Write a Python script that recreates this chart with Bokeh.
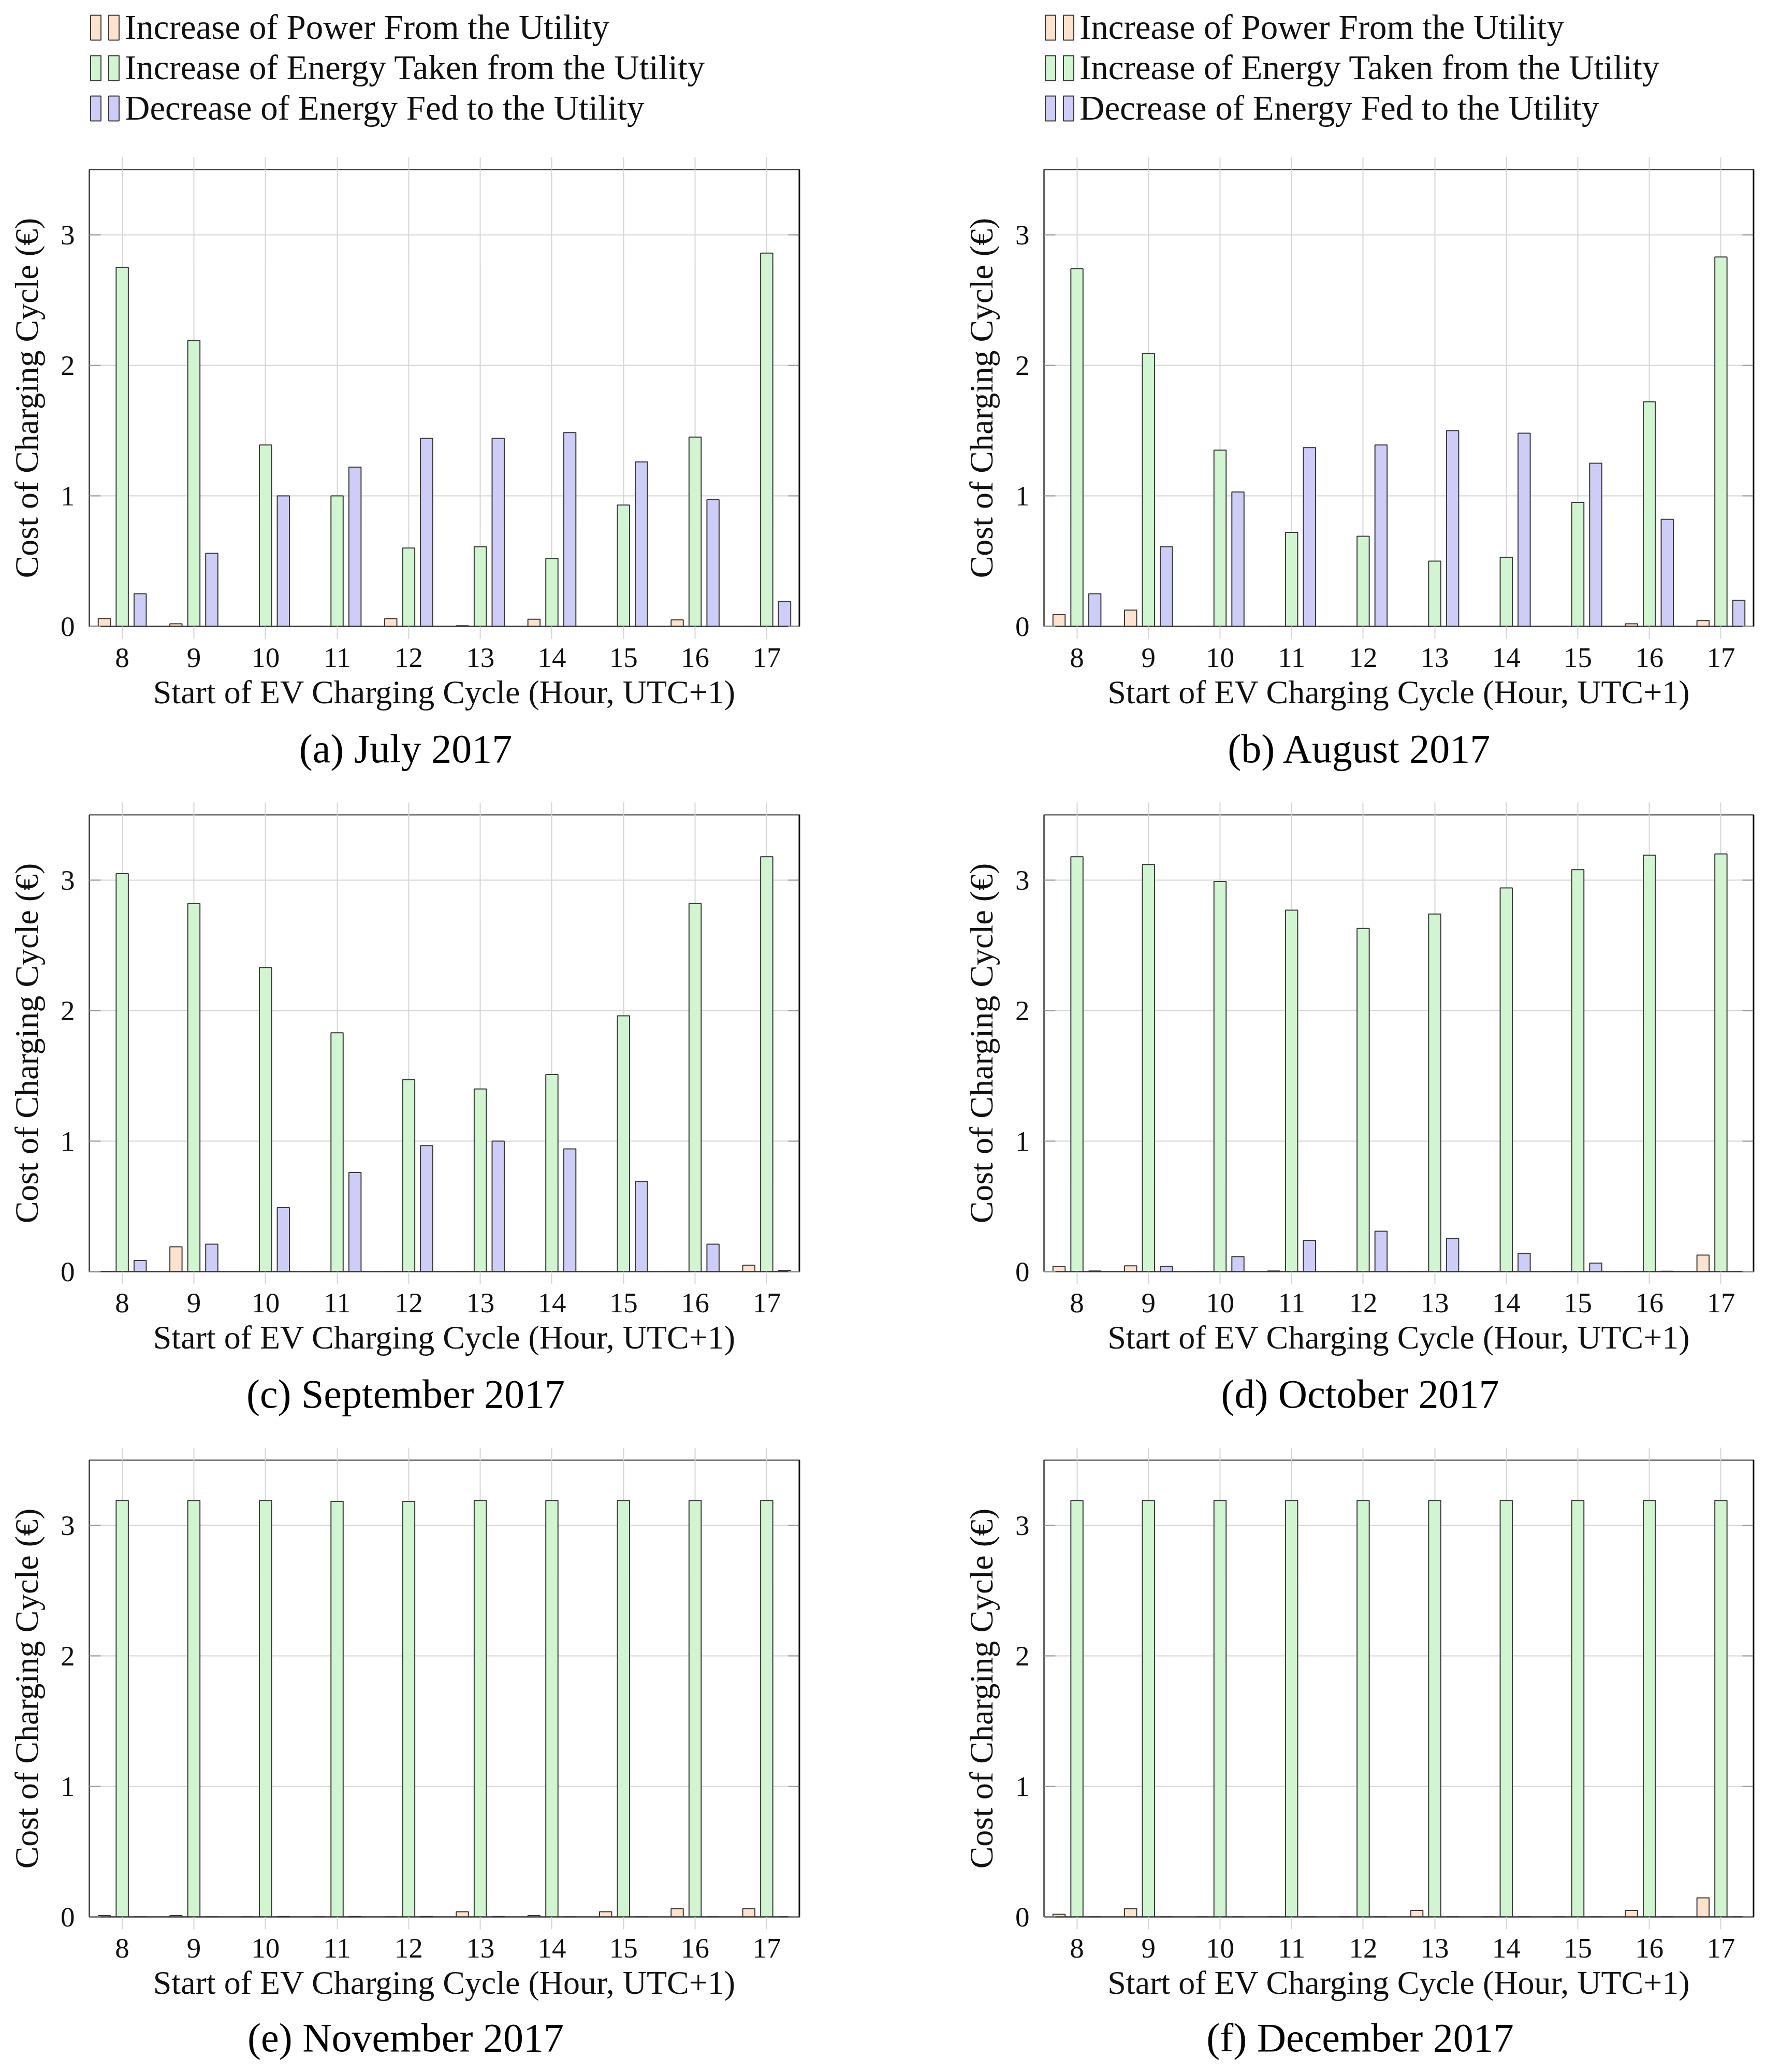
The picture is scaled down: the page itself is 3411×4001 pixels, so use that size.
from bokeh.plotting import figure
from bokeh.models import (ColumnDataSource, FixedTicker, Range1d, Legend,
                          LegendItem, Title, Span, LinearAxis)
from bokeh.transform import dodge
from bokeh.layouts import gridplot
from bokeh.core.properties import value
from bokeh.embed import file_html
from bokeh.resources import INLINE

# ---------------- data ----------------
hours = [8, 9, 10, 11, 12, 13, 14, 15, 16, 17]
y_ticks = [0, 1, 2, 3]

series_names = [
    "Increase of Power From the Utility",
    "Increase of Energy Taken from the Utility",
    "Decrease of Energy Fed to the Utility",
]

jul_power = [0.06, 0.02, 0.0, 0.0, 0.06, 0.005, 0.055, 0.0, 0.05, 0.0]
jul_taken = [2.75, 2.19, 1.39, 1.00, 0.60, 0.61, 0.52, 0.93, 1.45, 2.86]
jul_fed = [0.25, 0.56, 1.00, 1.22, 1.44, 1.44, 1.485, 1.26, 0.97, 0.19]

aug_power = [0.09, 0.125, 0.0, 0.0, 0.0, 0.0, 0.0, 0.0, 0.02, 0.045]
aug_taken = [2.74, 2.09, 1.35, 0.72, 0.69, 0.50, 0.53, 0.95, 1.72, 2.83]
aug_fed = [0.25, 0.61, 1.03, 1.37, 1.39, 1.50, 1.48, 1.25, 0.82, 0.20]

sep_power = [0.0, 0.19, 0.0, 0.0, 0.0, 0.0, 0.0, 0.0, 0.0, 0.05]
sep_taken = [3.05, 2.82, 2.33, 1.83, 1.47, 1.40, 1.51, 1.96, 2.82, 3.18]
sep_fed = [0.085, 0.21, 0.49, 0.76, 0.965, 1.00, 0.94, 0.69, 0.21, 0.01]

oct_power = [0.04, 0.045, 0.0, 0.005, 0.0, 0.0, 0.0, 0.0, 0.0, 0.127]
oct_taken = [3.18, 3.12, 2.99, 2.77, 2.63, 2.74, 2.94, 3.08, 3.19, 3.20]
oct_fed = [0.005, 0.04, 0.115, 0.24, 0.31, 0.255, 0.14, 0.065, 0.003, 0.0]

nov_power = [0.01, 0.01, 0.0, 0.0, 0.0, 0.04, 0.01, 0.04, 0.063, 0.063]
nov_taken = [3.19, 3.19, 3.19, 3.185, 3.185, 3.19, 3.19, 3.19, 3.19, 3.19]
nov_fed = [0.0, 0.0, 0.003, 0.003, 0.003, 0.003, 0.0, 0.0, 0.0, 0.0]

dec_power = [0.02, 0.063, 0.0, 0.0, 0.0, 0.05, 0.0, 0.0, 0.05, 0.146]
dec_taken = [3.19, 3.19, 3.19, 3.19, 3.19, 3.19, 3.19, 3.19, 3.19, 3.19]
dec_fed = [0.0, 0.0, 0.0, 0.0, 0.0, 0.0, 0.0, 0.0, 0.0, 0.0]

panel_letters = ["a", "b", "c", "d", "e", "f"]
panel_months = ["July 2017", "August 2017", "September 2017",
                "October 2017", "November 2017", "December 2017"]
panel_power = [jul_power, aug_power, sep_power, oct_power, nov_power, dec_power]
panel_taken = [jul_taken, aug_taken, sep_taken, oct_taken, nov_taken, dec_taken]
panel_fed = [jul_fed, aug_fed, sep_fed, oct_fed, nov_fed, dec_fed]

# ---------------- style ----------------
FONT = "Liberation Serif"
FILLS = ["#FDE2CD", "#D1F4D1", "#CDCDF8"]
BAR_LINE = "#3a3a3a"
GRID = "#d4d4d4"
OFFSETS = [-0.25, 0.0, 0.25]
BAR_W = 0.17
X_START, X_END = 7.54, 17.46
COLS = ["power", "taken", "fed"]

FRAME_W = [1372, 1371]
BORDER_L = [172, 316]
BORDER_R = [156, 12]
FRAME_H = 882
LEGEND_ROW_H = 285

# approximate advance widths (per 1000 em) of Liberation Serif, for caption centring
REG = {' ': 250, '(': 333, ')': 333, '0': 500, '1': 500, '2': 500, '7': 500,
       'A': 722, 'D': 722, 'J': 389, 'N': 722, 'O': 722, 'S': 556,
       'a': 444, 'b': 500, 'c': 444, 'd': 500, 'e': 444, 'f': 333,
       'g': 500, 'l': 278, 'm': 778, 'o': 500, 'p': 500, 'r': 333, 's': 389,
       't': 278, 'u': 500, 'v': 500, 'y': 500}
CAP_SIZE = 78


def w_reg(s):
    return sum(REG.get(c, 500) for c in s) * CAP_SIZE / 1000.0


def blank_axis(ticks, **kw):
    return LinearAxis(ticker=FixedTicker(ticks=ticks),
                      major_label_overrides={t: "" for t in ticks},
                      major_label_text_font_size="1px",
                      axis_line_color=None, minor_tick_line_color=None,
                      major_tick_line_width=2, **kw)


def add_bars(p, src, **kw):
    rs = []
    for k, col_name in enumerate(COLS):
        r = p.vbar(x=dodge("hour", OFFSETS[k], range=p.x_range), top=col_name,
                   bottom=0, width=BAR_W, source=src,
                   fill_color=FILLS[k], line_color=BAR_LINE, line_width=2, **kw)
        rs.append(r)
    return rs


sources = [ColumnDataSource(dict(hour=hours, power=panel_power[i],
                                 taken=panel_taken[i], fed=panel_fed[i]))
           for i in range(6)]


def make_panel(i):
    col = i % 2
    row = i // 2
    fw = FRAME_W[col]
    p = figure(frame_width=fw, frame_height=FRAME_H,
               min_border_left=BORDER_L[col], min_border_right=BORDER_R[col],
               min_border_top=42,
               min_border_bottom=322 if row < 2 else 300,
               x_range=Range1d(X_START, X_END), y_range=Range1d(0, 3.5),
               output_backend="svg", toolbar_location=None, tools="")
    p.title.visible = False
    p.background_fill_color = "white"
    p.border_fill_color = "white"
    p.outline_line_color = "#333333"
    p.outline_line_width = 2

    add_bars(p, sources[i])

    p.xaxis.ticker = FixedTicker(ticks=hours)
    p.yaxis.ticker = FixedTicker(ticks=y_ticks)
    p.xgrid.ticker = FixedTicker(ticks=hours)
    p.ygrid.ticker = FixedTicker(ticks=y_ticks)
    p.grid.grid_line_color = GRID
    p.grid.grid_line_width = 2

    for ax in (p.xaxis[0], p.yaxis[0]):
        ax.axis_line_color = "#333333"
        ax.axis_line_width = 2
        ax.minor_tick_line_color = None
        ax.major_label_text_font = FONT
        ax.major_label_text_font_size = "55px"
        ax.major_label_text_color = "#111111"
        ax.axis_label_text_font = FONT
        ax.axis_label_text_font_size = "64px"
        ax.axis_label_text_font_style = "normal"
        ax.axis_label_text_color = "#111111"
        ax.major_tick_line_width = 2

    xa = p.xaxis[0]
    xa.axis_label = "Start of EV Charging Cycle (Hour, UTC+1)"
    xa.major_tick_out = 24
    xa.major_tick_in = 0
    xa.major_tick_line_color = GRID
    xa.major_label_standoff = 18
    xa.axis_label_standoff = 10

    ya = p.yaxis[0]
    ya.axis_label = "Cost of Charging Cycle (\u20ac)"
    ya.major_tick_out = 0
    ya.major_tick_in = 22
    ya.major_tick_line_color = "#9a9a9a"
    ya.major_label_standoff = 28
    ya.axis_label_standoff = 27

    # mirrored ticks: x ticks poking above the frame, y ticks inside on the right
    p.add_layout(blank_axis(hours, major_tick_out=24, major_tick_in=0,
                            major_tick_line_color=GRID,
                            major_label_standoff=0), "above")
    p.add_layout(blank_axis(y_ticks, major_tick_out=0, major_tick_in=22,
                            major_tick_line_color="#9a9a9a",
                            major_label_standoff=0), "right")

    # thicker right border
    p.add_layout(Span(location=X_END, dimension="height", line_color="black",
                      line_width=4))

    # caption "(x) Month 2017"
    cap = "(" + panel_letters[i] + ") " + panel_months[i]
    total = w_reg(cap)
    cx = fw / 2.0 - 75
    left = cx - total / 2.0
    t = Title(text=cap, align="left", offset=left, vertical_align="top",
              standoff=54 if row < 2 else 48,
              text_font=FONT, text_font_size="%dpx" % CAP_SIZE,
              text_font_style="normal", text_color="black")
    p.add_layout(t, "below")
    return p


def make_legend_fig(col):
    fw = FRAME_W[col]
    lf = figure(frame_width=fw, frame_height=LEGEND_ROW_H,
                min_border_left=BORDER_L[col], min_border_right=BORDER_R[col],
                min_border_top=0, min_border_bottom=0,
                x_range=Range1d(X_START, X_END), y_range=Range1d(0, 3.5),
                x_axis_type=None, y_axis_type=None,
                output_backend="svg", toolbar_location=None, tools="")
    lf.title.visible = False
    lf.outline_line_color = None
    lf.background_fill_color = "white"
    lf.border_fill_color = "white"
    lf.grid.visible = False
    # the same three series (hidden here), only used to draw legend swatches
    rs = add_bars(lf, sources[col], visible=False)
    items = [LegendItem(label=value(""), renderers=[r]) for r in rs]
    items += [LegendItem(label=value(series_names[k]), renderers=[rs[k]])
              for k in range(3)]
    leg = Legend(items=items, nrows=3, orientation="vertical",
                 glyph_width=25, glyph_height=60, label_height=72,
                 label_width=0, label_standoff=9, spacing=1, padding=0,
                 margin=0, location=(0, 38),
                 background_fill_alpha=0, border_line_alpha=0,
                 inactive_fill_alpha=0,
                 label_text_font=FONT, label_text_font_size="67px",
                 label_text_color="#111111")
    lf.add_layout(leg)
    return lf


legend_figs = [make_legend_fig(0), make_legend_fig(1)]
figs = [make_panel(i) for i in range(6)]
grid = gridplot([legend_figs,
                 [figs[0], figs[1]], [figs[2], figs[3]], [figs[4], figs[5]]],
                toolbar_location=None)

open("out.html", "w").write(file_html(grid, INLINE))
